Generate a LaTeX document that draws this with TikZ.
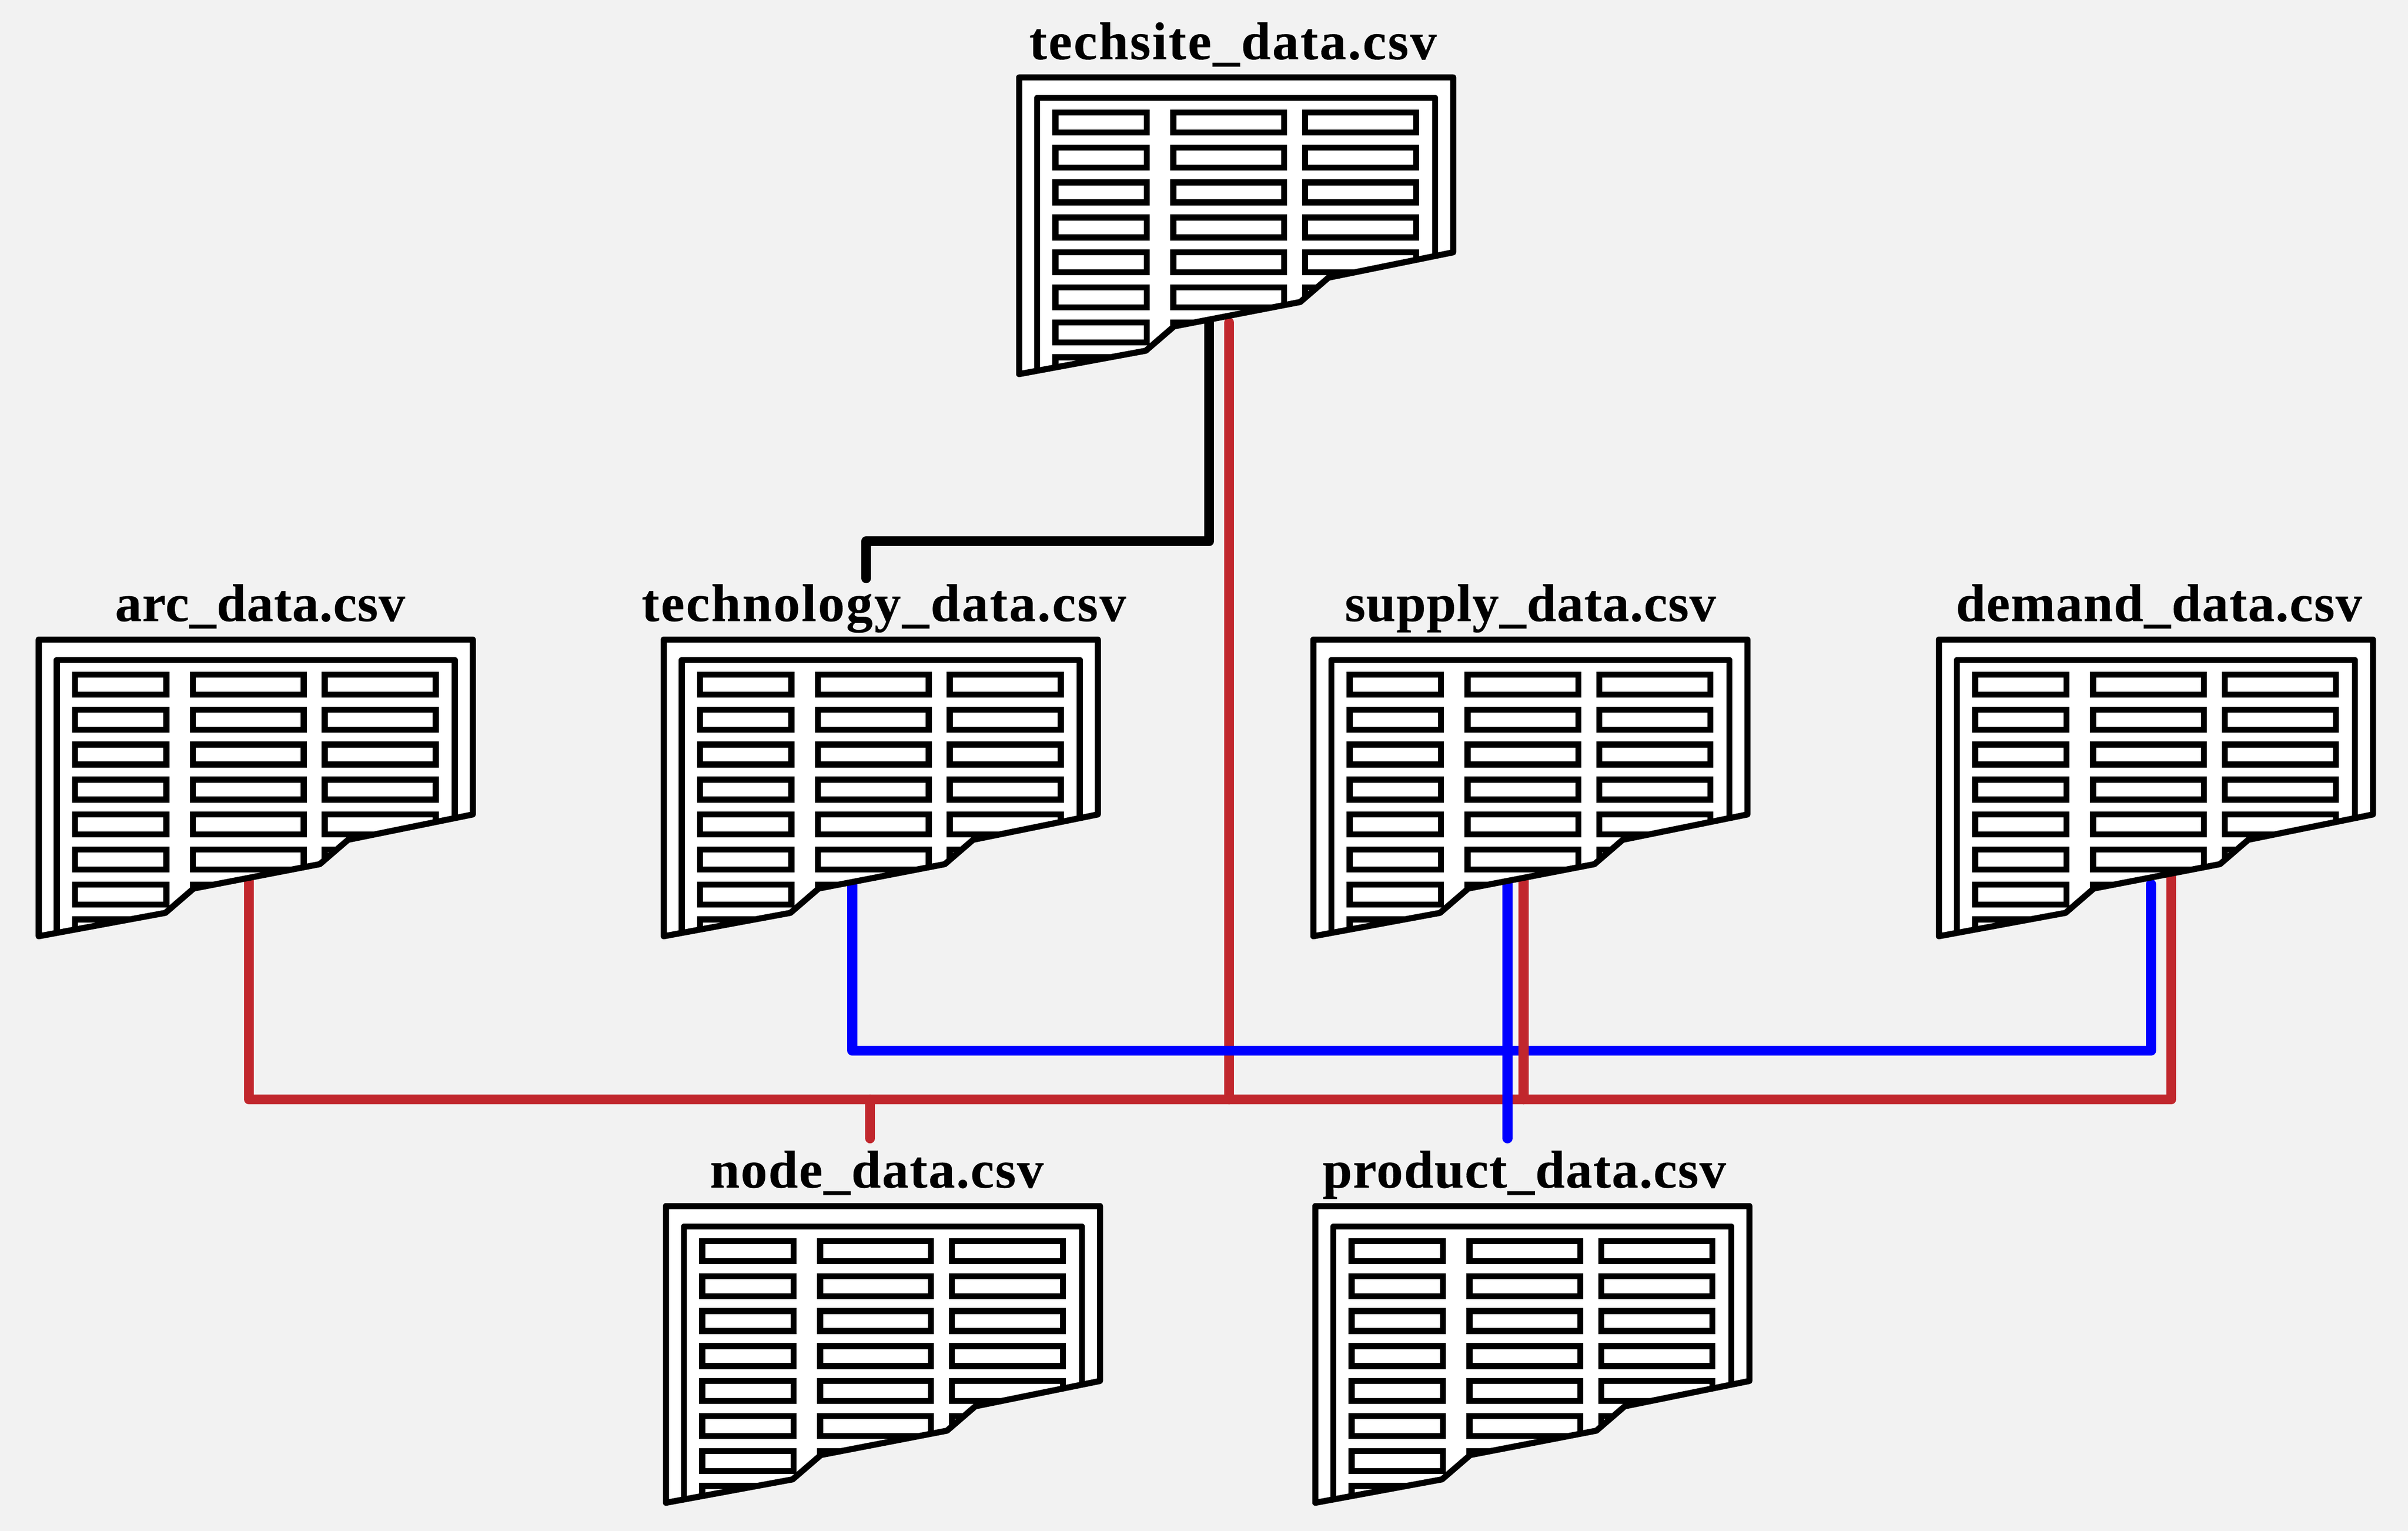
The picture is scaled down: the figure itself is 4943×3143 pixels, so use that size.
\documentclass[tikz,border=0pt]{standalone}
\usepackage{fontspec}
\usepackage{tikz}
\newfontfamily\csvfont{Liberation Serif}[FakeBold=0.3]
\definecolor{pagegray}{RGB}{242,242,242}
\definecolor{keyred}{RGB}{193,39,45}
\definecolor{keyblue}{RGB}{0,0,255}

\tikzset{
    sheetline/.style={line width=0.125cm, line join=round, line cap=round},
    cellbox/.style={line width=0.125cm, line join=miter},
    keyline/.style={line width=0.205cm, line join=round, line cap=round},
    csvlabel/.style={anchor=base, inner sep=0pt, font=\csvfont\bfseries\fontsize{31}{34}\selectfont},
    sheetbox/.style={anchor=north west, inner sep=0pt, minimum width=8.91cm, minimum height=6.09cm}
}

% one csv sheet: name, left, top, label x, label baseline, label tracking, label text
\newcommand{\csvsheet}[7]{
    \node[sheetbox] (#1) at (#2,#3) {};
    \begin{scope}[shift={(#2,#3)}]
        \fill[white] (0,0) -- (891,0) -- (891,-359) -- (635,-411) -- (577,-461)
            -- (318,-511) -- (260,-561) -- (0,-609) -- cycle;
        \begin{scope}
            \clip (0,0) -- (891,0) -- (891,-359) -- (635,-411) -- (577,-461)
                -- (318,-511) -- (260,-561) -- (0,-609) -- cycle;
            % inner sheet
            \draw[sheetline] (37,-650) -- (37,-42) -- (854,-42) -- (854,-650);
            % table cells
            \foreach \row in {0,...,7} {
                \draw[cellbox] (74.5,-72-71.8*\row) rectangle (262,-113-71.8*\row);
                \draw[cellbox] (316.5,-72-71.8*\row) rectangle (544,-113-71.8*\row);
                \draw[cellbox] (587,-72-71.8*\row) rectangle (815,-113-71.8*\row);
            }
        \end{scope}
        % outer sheet
        \draw[sheetline] (0,0) -- (891,0) -- (891,-359) -- (635,-411) -- (577,-461)
            -- (318,-511) -- (260,-561) -- (0,-609) -- cycle;
    \end{scope}
    \node[csvlabel] (#1label) at (#4,#5) {\addfontfeature{LetterSpace=#6}#7};
}

\begin{document}
\begin{tikzpicture}[x=0.01cm, y=0.01cm]
    % Page
    \fill[pagegray] (0,0) rectangle (4943,-3143);

    % Connector ends
    \coordinate (techsiteK) at (2482,-662);
    \coordinate (techsiteR) at (2523,-662);
    \coordinate (technologyK) at (1778,-1187);
    \coordinate (keybend) at (1778,-1111);
    \coordinate (arcR) at (511,-1806);
    \coordinate (nodeR) at (1786,-2337);
    \coordinate (supplyR) at (3127.5,-1806);
    \coordinate (demandR) at (4457,-1800);
    \coordinate (redleft) at (511,-2257);
    \coordinate (redright) at (4457,-2257);
    \coordinate (technologyB) at (1749.5,-1816);
    \coordinate (supplyB) at (3094.5,-1812);
    \coordinate (demandB) at (4415.5,-1815);
    \coordinate (productB) at (3094.5,-2337);
    \coordinate (blueleft) at (1749.5,-2157);
    \coordinate (blueright) at (4415.5,-2157);

    % Black key
    \draw[keyline, black] (techsiteK) |- (keybend) -- (technologyK);

    % Red keys
    \draw[keyline, keyred] (techsiteR) -- (techsiteR |- redleft);
    \draw[keyline, keyred] (arcR) -- (redleft) -- (redright) -- (demandR);
    \draw[keyline, keyred] (nodeR) -- (nodeR |- redleft);

    % Blue keys
    \draw[keyline, keyblue] (technologyB) -- (blueleft) -- (blueright) -- (demandB);
    \draw[keyline, keyred] (supplyR) -- (supplyR |- redleft);
    \draw[keyline, keyblue] (supplyB) -- (productB);

    % Sheets
    \csvsheet{techsite}{2092}{-159}{2531}{-121.5}{3}{techsite\_data.csv}
    \csvsheet{arc}{79.5}{-1313}{534}{-1275}{1.1}{arc\_data.csv}
    \csvsheet{technology}{1362.5}{-1313}{1814.5}{-1275}{3}{technology\_data.csv}
    \csvsheet{supply}{2696}{-1313}{3141.5}{-1275}{1.3}{supply\_data.csv}
    \csvsheet{demand}{3980}{-1313}{4432}{-1275}{1.65}{demand\_data.csv}
    \csvsheet{node}{1367}{-2476}{1800}{-2438}{2.1}{node\_data.csv}
    \csvsheet{product}{2700}{-2476}{3129}{-2438}{1.7}{product\_data.csv}
\end{tikzpicture}
\end{document}
